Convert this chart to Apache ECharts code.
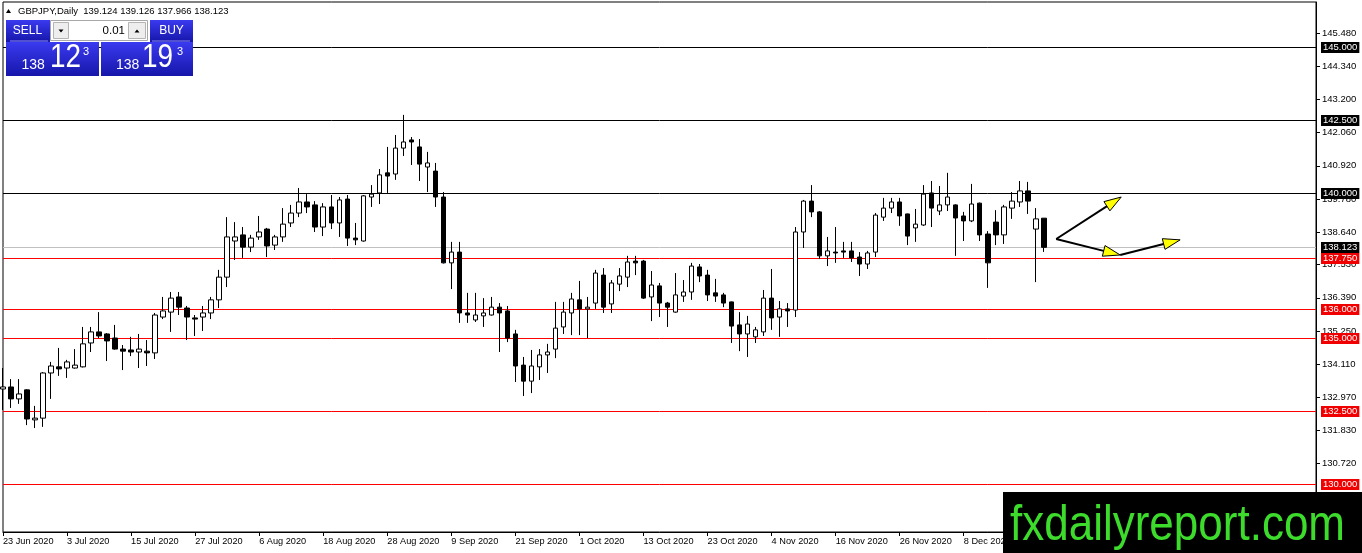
<!DOCTYPE html>
<html>
<head>
<meta charset="utf-8">
<script src="https://cdn.jsdelivr.net/npm/echarts@6/dist/echarts.min.js"></script>
<style>
html,body{margin:0;padding:0;background:#fff;}
#c{width:1362px;height:553px;}
</style>
</head>
<body>
<div id="c"></div>
<script>
// ---------- data ----------
const startDate = '2020-06-23';
const futureSlots = 34;

const opens = [
133.26,133.33,132.92,133.23,132.20,132.26,133.81,134.02,133.98,133.98,
134.02,134.84,135.22,135.15,135.01,134.63,134.60,134.53,134.56,134.50,
135.73,135.90,136.42,136.04,135.70,135.73,135.87,136.32,137.10,138.34,
138.55,138.13,138.48,138.75,138.20,138.48,138.96,139.30,139.68,139.58,
138.82,139.51,138.96,139.78,138.44,138.34,139.85,139.99,140.68,140.64,
141.53,141.81,141.57,140.88,140.74,139.85,137.59,137.96,135.87,135.63,
135.77,135.80,136.07,135.94,135.15,134.08,133.53,134.02,134.43,134.63,
135.39,135.87,136.32,136.01,136.21,137.17,136.18,136.86,137.10,137.65,
137.65,136.42,136.80,136.21,135.90,136.45,136.59,137.45,137.17,136.56,
136.49,136.25,135.46,135.15,135.05,135.22,136.38,135.73,136.01,135.97,
138.65,139.71,139.34,137.83,137.96,138.00,138.00,137.79,137.55,137.96,
139.16,139.47,139.68,139.27,138.79,138.89,139.99,139.37,139.58,139.58,
139.20,139.03,139.64,138.58,138.99,138.55,139.47,139.68,140.06,138.75,
139.124];

const highs = [
133.98,133.60,133.60,133.25,132.68,133.84,134.19,134.67,134.26,134.63,
135.39,135.39,135.90,135.18,135.46,134.77,135.05,135.15,134.94,135.87,
136.42,136.59,136.59,136.11,135.80,136.11,136.42,137.35,139.16,138.99,
138.82,138.55,139.20,138.79,138.55,139.47,139.58,140.16,139.95,139.71,
139.64,139.92,139.85,139.92,138.96,139.92,140.26,140.81,141.57,141.98,
142.67,141.91,141.84,141.40,141.02,140.02,138.31,138.31,136.56,136.56,
136.38,136.42,136.21,136.11,135.29,134.36,134.60,134.63,134.81,136.25,
136.25,136.56,136.97,136.42,137.35,137.41,137.00,137.41,137.83,137.83,
137.69,137.31,136.90,136.25,137.24,137.00,137.59,137.55,137.35,137.04,
136.56,136.26,135.90,135.77,135.39,136.66,137.38,136.28,136.21,138.82,
139.75,140.26,139.37,138.48,138.82,138.31,138.31,137.96,138.00,139.30,
139.82,139.82,139.82,139.28,139.44,140.26,140.40,140.23,140.68,139.60,
139.34,140.30,139.66,138.68,139.40,139.58,140.02,140.40,140.37,139.47,
139.126];

const lows = [
132.54,132.61,132.75,132.02,131.92,131.96,132.92,133.71,133.64,133.96,
134.00,134.53,135.01,134.22,134.61,133.91,134.39,133.98,134.05,134.29,
135.66,135.22,135.80,134.94,135.08,135.25,135.66,136.04,136.76,137.69,
137.76,137.96,138.38,137.79,138.03,138.31,138.82,139.16,139.30,138.65,
138.51,138.75,138.48,138.17,138.20,138.32,139.51,139.61,139.99,140.44,
141.26,140.95,140.40,140.02,139.51,137.57,136.69,135.53,135.53,135.56,
135.39,135.78,134.53,134.87,133.50,133.02,133.12,133.57,133.81,134.32,
135.15,135.11,135.11,135.01,136.01,135.87,135.87,136.62,136.76,137.17,
136.35,135.59,135.73,135.39,135.88,136.25,136.32,136.93,136.28,136.25,
136.07,134.84,134.56,134.36,134.84,135.08,135.29,135.05,135.39,135.73,
138.10,139.16,137.72,137.48,137.59,137.76,137.62,137.14,137.38,137.79,
139.03,139.30,138.86,138.20,138.31,138.86,138.82,139.23,139.37,137.83,
138.34,138.99,138.34,136.73,138.20,138.24,139.10,139.51,139.27,136.93,
137.966];

const closes = [
133.33,132.92,133.09,132.23,132.26,133.81,134.05,133.95,134.19,134.08,
134.81,135.22,135.08,134.91,134.63,134.56,134.53,134.63,134.50,135.80,
135.94,136.38,136.07,135.73,135.66,135.87,136.32,137.10,138.48,138.48,
138.13,138.44,138.65,138.17,138.48,138.92,139.30,139.68,139.51,138.82,
139.51,138.96,139.75,138.44,138.38,139.89,139.95,140.61,140.57,141.53,
141.74,141.74,140.98,141.02,139.85,137.59,137.96,135.87,135.80,135.80,
135.87,136.07,135.87,135.01,134.05,133.53,134.05,134.43,134.53,135.35,
135.90,136.35,136.01,136.07,137.24,136.07,136.90,137.14,137.62,137.59,
136.38,136.83,136.21,136.07,136.49,136.59,137.48,137.14,136.49,136.45,
136.21,135.42,135.15,135.49,135.29,136.38,135.70,136.01,135.94,138.65,
139.71,139.34,137.83,138.00,137.93,137.96,137.76,137.55,137.93,139.23,
139.47,139.68,139.20,138.51,138.92,139.95,139.47,139.58,139.85,139.13,
139.03,139.61,138.55,137.59,138.55,139.51,139.71,140.06,139.71,139.10,
138.123];

const yTickValues = [145.48,144.34,143.20,142.06,140.92,139.78,138.64,137.53,136.39,135.25,134.11,132.97,131.83,130.72];
const levelsBlack = [145.0, 142.5, 140.0];
const levelsRed = [137.75, 136.0, 135.0, 132.5, 130.0];
const bidPrice = 138.123;
const headerText = 'GBPJPY,Daily  139.124 139.126 137.966 138.123';
// arrow segments: [fromBarIndex, fromPrice, toBarIndex, toPrice]
const arrowSegments = [
  [131.55, 138.41, 139.67, 139.85],
  [131.55, 138.41, 139.54, 137.86],
  [139.54, 137.86, 147.03, 138.38]
];

// ---------- build ----------
function buildDates(start, n) {
  const m = ['Jan','Feb','Mar','Apr','May','Jun','Jul','Aug','Sep','Oct','Nov','Dec'];
  const out = [];
  const d = new Date(start + 'T00:00:00Z');
  while (out.length < n) {
    const wd = d.getUTCDay();
    if (wd !== 0 && wd !== 6) out.push(d.getUTCDate() + ' ' + m[d.getUTCMonth()] + ' ' + d.getUTCFullYear());
    d.setUTCDate(d.getUTCDate() + 1);
  }
  return out;
}
const barCount = closes.length;
const dates = buildDates(startDate, barCount);
const categories = dates.concat(Array.from({length: futureSlots}, (_, i) => 'f' + i));
const candleData = opens.map((o, i) => [o, closes[i], lows[i], highs[i]]);

const FONT = '"Liberation Sans", Arial, sans-serif';
const showIdx = (idx) => idx % 8 === 0 && idx < barCount;

// level kinds: 0 = black, 1 = red, 2 = bid (grey line, black tag)
const levelData = []
  .concat(levelsBlack.map(v => [0, v, 0]))
  .concat(levelsRed.map(v => [0, v, 1]))
  .concat([[0, bidPrice, 2]]);
const LINE_COL = ['#000000', '#ff0000', '#c0c0c0'];
const TAG_COL = ['#000000', '#f00000', '#000000'];

const blue = () => new echarts.graphic.LinearGradient(0, 0, 0, 1, [
  { offset: 0, color: '#3a3af0' }, { offset: 1, color: '#1616aa' }]);

function txt(x, y, text, size, color, align, extra) {
  return Object.assign({
    type: 'text', z: 101, silent: true,
    style: { x: x, y: y, text: text, fill: color, font: size + 'px ' + FONT,
      fontSize: size, fontFamily: FONT,
      textAlign: align || 'left', align: align || 'left',
      textVerticalAlign: 'middle', verticalAlign: 'middle' }
  }, extra || {});
}

const graphics = [
  // header
  { type: 'polygon', z: 100, silent: true, shape: { points: [[6, 13], [8.5, 9], [11, 13]] }, style: { fill: '#000' } },
  txt(18, 11, headerText, 9.5, '#000'),
  // SELL panel
  { type: 'rect', z: 100, silent: true, shape: { x: 6, y: 20, width: 44, height: 22 }, style: { fill: blue() } },
  { type: 'rect', z: 100, silent: true, shape: { x: 6, y: 42, width: 93, height: 34 }, style: { fill: blue() } },
  { type: 'line', z: 101, silent: true, shape: { x1: 10, y1: 41, x2: 48, y2: 41 }, style: { stroke: '#8a8af4', lineWidth: 1 } },
  // BUY panel
  { type: 'rect', z: 100, silent: true, shape: { x: 150, y: 20, width: 43, height: 22 }, style: { fill: blue() } },
  { type: 'rect', z: 100, silent: true, shape: { x: 101, y: 42, width: 92, height: 34 }, style: { fill: blue() } },
  { type: 'line', z: 101, silent: true, shape: { x1: 152, y1: 41, x2: 190, y2: 41 }, style: { stroke: '#8a8af4', lineWidth: 1 } },
  // lot box
  { type: 'rect', z: 100, silent: true, shape: { x: 50.5, y: 20.5, width: 97, height: 20 }, style: { fill: '#fff', stroke: '#a8a8a8', lineWidth: 1 } },
  { type: 'rect', z: 101, silent: true, shape: { x: 53.5, y: 22.5, width: 15, height: 16 }, style: { fill: '#eeeeee', stroke: '#b4b4b4', lineWidth: 1 } },
  { type: 'polygon', z: 102, silent: true, shape: { points: [[58.5, 29.5], [63.5, 29.5], [61, 32.5]] }, style: { fill: '#000' } },
  { type: 'rect', z: 101, silent: true, shape: { x: 128.5, y: 22.5, width: 17, height: 16 }, style: { fill: '#eeeeee', stroke: '#b4b4b4', lineWidth: 1 } },
  { type: 'polygon', z: 102, silent: true, shape: { points: [[134.5, 32.5], [139.5, 32.5], [137, 29.5]] }, style: { fill: '#000' } },
  txt(125, 31, '0.01', 11.5, '#000', 'right'),
  txt(27.5, 31, 'SELL', 12, '#fff', 'center'),
  txt(171.5, 31, 'BUY', 12, '#fff', 'center'),
  // prices
  txt(21.5, 65, '138', 14, '#fff'),
  txt(0, 0, '12', 34, '#fff', 'left', { x: 50, y: 58, scaleX: 0.82 }),
  txt(83, 52, '3', 11, '#fff'),
  txt(116, 65, '138', 14, '#fff'),
  txt(0, 0, '19', 34, '#fff', 'left', { x: 142, y: 58, scaleX: 0.82 }),
  txt(177, 52, '3', 11, '#fff'),
  // watermark
  { type: 'rect', z: 100, silent: true, shape: { x: 1003, y: 492, width: 359, height: 61 }, style: { fill: '#000' } },
  txt(0, 0, 'fxdailyreport.com', 44, '#3ddc2c', 'left', { x: 1010, y: 526, scaleY: 1.15 })
];

const option = {
  animation: false,
  backgroundColor: '#fff',
  grid: { left: 2, right: 46, top: 2, bottom: 21, show: true, borderColor: '#000', borderWidth: 1, backgroundColor: '#fff' },
  xAxis: {
    type: 'category', data: categories, boundaryGap: false,
    axisLine: { show: true, lineStyle: { color: '#000', width: 1 } },
    axisTick: { show: true, interval: showIdx, length: 4, lineStyle: { color: '#000' } },
    axisLabel: { interval: showIdx, align: 'left', margin: 5, fontSize: 9.2, fontFamily: FONT, color: '#000',
      formatter: v => v },
    splitLine: { show: false }
  },
  yAxis: {
    type: 'value', position: 'right', min: 128.351, max: 146.545, scale: true,
    axisLine: { show: true, lineStyle: { color: '#000', width: 1 } },
    axisTick: { show: true, length: 4, customValues: yTickValues, lineStyle: { color: '#000' } },
    axisLabel: { customValues: yTickValues, margin: 6, fontSize: 9.5, fontFamily: FONT, color: '#000',
      formatter: v => Number(v).toFixed(3) },
    splitLine: { show: false }
  },
  series: [
    {
      // horizontal levels with price tags
      type: 'custom', silent: true, z: 1, clip: false,
      encode: { x: 0, y: 1 },
      data: levelData,
      renderItem: function (params, api) {
        const cs = params.coordSys;
        const v = api.value(1);
        const k = api.value(2);
        const y = Math.round(api.coord([0, v])[1]) + 0.5;
        return {
          type: 'group', children: [
            { type: 'line', shape: { x1: cs.x, y1: y, x2: cs.x + cs.width, y2: y },
              style: { stroke: LINE_COL[k], lineWidth: 1 } },
            { type: 'text', z2: 10,
              style: { x: cs.x + cs.width + 5, y: y, text: v.toFixed(3), fill: '#fff',
                font: '9.5px ' + FONT, verticalAlign: 'middle', textVerticalAlign: 'middle',
                backgroundColor: TAG_COL[k], padding: [1, 2, 0, 2], lineHeight: 10 } }
          ]
        };
      }
    },
    {
      type: 'candlestick', data: candleData, barWidth: 5, silent: true, z: 2,
      itemStyle: { color: '#ffffff', color0: '#000000', borderColor: '#000000', borderColor0: '#000000', borderWidth: 1 }
    },
    {
      type: 'custom', silent: true, z: 10, clip: false,
      encode: { x: 0, y: 1 },
      data: arrowSegments.map(s => [0, 140].concat(s)),
      renderItem: function (params, api) {
        const pt = (xi, yv) => {
          const i0 = Math.floor(xi);
          const a = api.coord([i0, yv]);
          const b = api.coord([i0 + 1, yv]);
          return [a[0] + (b[0] - a[0]) * (xi - i0), a[1]];
        };
        const p0 = pt(api.value(2), api.value(3));
        const p1 = pt(api.value(4), api.value(5));
        const dx = p1[0] - p0[0], dy = p1[1] - p0[1];
        const len = Math.hypot(dx, dy);
        const ux = dx / len, uy = dy / len;
        const hl = 17, hw = 5.5;
        const base = [p1[0] - ux * hl, p1[1] - uy * hl];
        const l = [base[0] - uy * hw, base[1] + ux * hw];
        const r = [base[0] + uy * hw, base[1] - ux * hw];
        return {
          type: 'group', children: [
            { type: 'line', shape: { x1: p0[0], y1: p0[1], x2: base[0] + ux * 2, y2: base[1] + uy * 2 }, style: { stroke: '#000', lineWidth: 2 } },
            { type: 'polygon', shape: { points: [p1, l, r] }, style: { fill: '#ffff00', stroke: '#000', lineWidth: 1 } }
          ]
        };
      }
    }
  ],
  graphic: graphics
};

const chart = echarts.init(document.getElementById('c'));
chart.setOption(option);
</script>
</body>
</html>
